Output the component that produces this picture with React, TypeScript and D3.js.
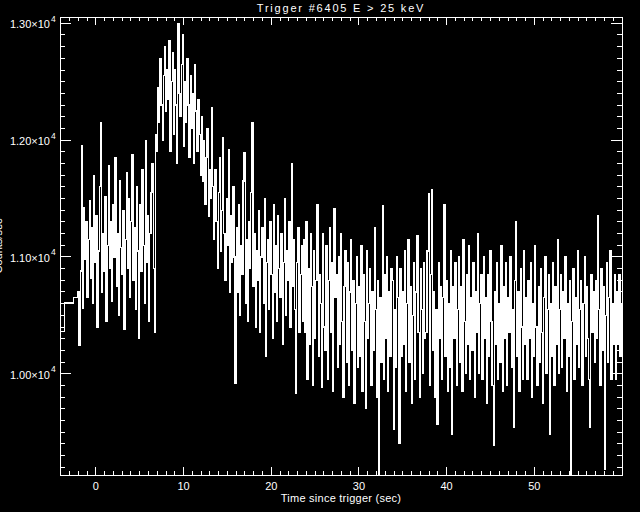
import React, { useEffect, useRef } from "react";
import * as d3 from "d3";

const TITLE = "Trigger #6405 E > 25 keV";
const X_TITLE = "Time since trigger (sec)";
const Y_TITLE = "Counts/sec";

// pre-trigger bins: start time (s) and rate (counts/s)
const preStarts = [-4.096, -3.584, -2.56];
const preRates = [10360, 10605, 10655];

// 0.128 s bins from -2.048 s
const fineStart = -2.048;
const fineWidth = 0.128;
const fineRates = [
  10700, 10240, 10880, 11950, 10560, 11420, 10980, 11300, 10650, 11150,
  11480, 10820, 11250, 10600, 11700, 10950, 11350, 10400, 11050, 11600,
  12150, 10700, 11200, 10880, 11520, 10450, 11100, 11780, 10900, 11300,
  10620, 11450, 11000, 11850, 10750, 11200, 10500, 11650, 11080, 10850,
  11400, 10380, 11150, 11720, 10900, 11500, 10650, 11300, 11880, 10800,
  11250, 10550, 11600, 11050, 10300, 11450, 10880, 11750, 11100, 10600,
  12000, 10950, 11350, 10450, 11200, 11550, 11800, 10900, 10350, 12050,
  11900, 12450, 12150, 12700, 12300, 12000, 12550, 12800, 12250, 12600,
  12350, 12850, 11900, 12500, 12750, 12050, 12600, 12300, 11800, 13000,
  12400, 12200, 12650, 12900, 11950, 12500, 12150, 12700, 12300, 11850,
  12550, 12100, 12400, 11800, 12650, 12250, 11900, 12350, 12050, 11700,
  12200, 11650, 12000, 11450, 11850, 12100, 11350, 11750, 11500, 12280,
  11600, 11150, 11750, 11300, 10900, 11550, 11850, 11050, 11400, 12020,
  11200, 10800, 11500, 11100, 11920, 10700, 11350, 10950, 11600, 11000,
  9920, 11250, 10700, 11450, 10500, 11100, 10850, 11650, 11890, 10600,
  11150, 10450, 11300, 10900, 11550, 12150, 10750, 11200, 10400, 11050,
  10800, 11400, 10350, 11000, 11250, 10600, 11500, 10150, 10950, 11150,
  10550, 11300, 10850, 10300, 11450, 10700, 11100, 10450, 11350, 10900,
  10650, 11200, 10250, 10950, 11500, 10500, 11050, 10800, 11300, 10400,
  11800, 10750, 11150, 10550, 9830, 10950, 11250, 10350, 10850, 11100,
  10450, 11150, 10350, 11300, 9950, 10900, 10250, 11200, 10750, 9900,
  11050, 10300, 10800, 11450, 10150, 10850, 10600, 9880, 11200, 10400,
  10200, 11100, 9950, 10800, 11250, 10350, 10950, 9850, 11410, 10650,
  10850, 10050, 11000, 10250, 11200, 10450, 9800, 10750, 11050, 10100,
  10950, 9900, 10700, 11150, 10200, 10800, 9750, 10600, 11000, 10050,
  10750, 10150, 11100, 9850, 10850, 10450, 9700, 11050, 10300, 10600,
  10900, 9900, 10700, 10200, 11250, 10550, 9800, 10800, 9050, 10650,
  10100, 11440, 9950, 10850, 10300, 11000, 9850, 10700, 10150, 10900,
  10800, 9520, 10550, 10050, 11000, 10650, 9400, 10900, 10150, 10700,
  10250, 11050, 9850, 10600, 11150, 10100, 10750, 9750, 10500, 10950,
  9950, 10700, 11180, 10350, 9800, 10900, 10550, 10000, 10950, 10300,
  10350, 11050, 11540, 9900, 10850, 11580, 10200, 10700, 9800, 10550,
  9570, 10950, 10300, 10750, 9950, 10650, 11450, 10150, 10800, 9850,
  10600, 10050, 11050, 9480, 10750, 10300, 10950, 9900, 10550, 11000,
  10100, 10750, 9850, 11150, 10450, 10000, 10850, 10250, 11100, 9950,
  10650, 10200, 10950, 9800, 10700, 10350, 11200, 10000, 10600, 10850,
  9950, 11000, 10300, 10650, 9750, 10850, 10150, 11050, 10450, 9900,
  9390, 10700, 10250, 10950, 9950, 10600, 10100, 11100, 9850, 10750,
  10300, 10950, 9900, 10650, 10350, 11000, 10050, 10550, 9540, 10800,
  11300, 10150, 10700, 9850, 10900, 10400, 9950, 11050, 10250, 10650,
  9950, 10800, 10300, 10950, 9800, 10600, 10150, 11100, 10400, 9900,
  10750, 10100, 10900, 10350, 9750, 10650, 11000, 10000, 10550, 10850,
  9480, 10600, 10150, 10950, 9900, 10750, 10250, 11150, 10000, 10550,
  10850, 10050, 10700, 10300, 11000, 9850, 10600, 10150, 10800, 9050,
  10450, 10900, 9950, 10650, 10250, 11050, 10050, 10550, 10800, 9900,
  10600, 11000, 10150, 10750, 10300, 9950, 9540, 10850, 10350, 10700,
  10100, 10800, 10300, 11350, 10550, 9900, 10900, 10200, 10750, 9180,
  10500, 10950, 10100, 10650, 11050, 9950, 10600, 10250, 10850, 9950,
  10700, 10250, 10850, 10150, 10600,
];

const xMajor = [0, 10, 20, 30, 40, 50];
const xMajorLabels = ["0", "10", "20", "30", "40", "50"];
const yMajor = [10000, 11000, 12000, 13000];
const yMajorLabels = ["1.00\u00d710", "1.10\u00d710", "1.20\u00d710", "1.30\u00d710"];
const yExponent = "4";

const App = () => {
  const svgRef = useRef(null);

  useEffect(() => {
    document.body.style.margin = "0";
    document.body.style.background = "#000";

    const width = 640;
    const height = 512;
    const left = 60, right = 622, top = 17, bottom = 475;
    const font = "'Liberation Sans', Arial, sans-serif";

    const x = d3.scaleLinear().domain([-4.096, 60]).range([left, right]);
    const y = d3.scaleLinear().domain([9133, 13054]).range([bottom, top]);

    const pts: [number, number][] = [];
    preStarts.forEach((t, i) => pts.push([t, preRates[i]]));
    fineRates.forEach((v, i) => pts.push([fineStart + i * fineWidth, v]));
    pts.push([fineStart + fineRates.length * fineWidth, fineRates[fineRates.length - 1]]);

    const svg = d3.select(svgRef.current)
      .attr("width", width)
      .attr("height", height)
      .attr("viewBox", [0, 0, width, height])
      .style("display", "block")
      .style("background", "#000");
    svg.selectAll("*").remove();

    svg.append("rect").attr("width", width).attr("height", height).attr("fill", "#000");

    svg.append("clipPath").attr("id", "plot-clip")
      .append("rect").attr("x", left).attr("y", top)
      .attr("width", right - left).attr("height", bottom - top);

    const line = d3.line<[number, number]>()
      .x(d => x(d[0]))
      .y(d => y(d[1]))
      .curve(d3.curveStepAfter);

    // IDL-style raster look: no antialiasing
    svg.append("path")
      .attr("d", line(pts))
      .attr("fill", "none")
      .attr("stroke", "#fff")
      .attr("stroke-width", 1.2)
      .attr("shape-rendering", "crispEdges")
      .attr("clip-path", "url(#plot-clip)");

    const g = svg.append("g")
      .attr("stroke", "#fff")
      .attr("stroke-width", 1)
      .attr("shape-rendering", "crispEdges");

    g.append("rect")
      .attr("x", left).attr("y", top)
      .attr("width", right - left).attr("height", bottom - top)
      .attr("fill", "none");

    // x ticks, bottom and top, pointing in
    const xMinor = d3.range(-4, 60, 1).filter(t => !xMajor.includes(t));
    xMinor.forEach(t => {
      g.append("line").attr("x1", x(t)).attr("x2", x(t)).attr("y1", bottom).attr("y2", bottom - 4);
      g.append("line").attr("x1", x(t)).attr("x2", x(t)).attr("y1", top).attr("y2", top + 4);
    });
    xMajor.forEach(t => {
      g.append("line").attr("x1", x(t)).attr("x2", x(t)).attr("y1", bottom).attr("y2", bottom - 8);
      g.append("line").attr("x1", x(t)).attr("x2", x(t)).attr("y1", top).attr("y2", top + 8);
    });

    // y ticks, left and right
    const yMinor = d3.range(9200, 13100, 100).filter(v => !yMajor.includes(v));
    yMinor.forEach(v => {
      g.append("line").attr("x1", left).attr("x2", left + 5).attr("y1", y(v)).attr("y2", y(v));
      g.append("line").attr("x1", right).attr("x2", right - 5).attr("y1", y(v)).attr("y2", y(v));
    });
    yMajor.forEach(v => {
      g.append("line").attr("x1", left).attr("x2", left + 11).attr("y1", y(v)).attr("y2", y(v));
      g.append("line").attr("x1", right).attr("x2", right - 11).attr("y1", y(v)).attr("y2", y(v));
    });

    const txt = svg.append("g")
      .attr("fill", "#fff")
      .attr("font-family", font)
      .attr("font-size", 11);

    xMajor.forEach((t, i) => {
      txt.append("text")
        .attr("x", x(t)).attr("y", 490)
        .attr("text-anchor", "middle")
        .text(xMajorLabels[i]);
    });

    yMajor.forEach((v, i) => {
      txt.append("text")
        .attr("x", 50).attr("y", y(v) + 5)
        .attr("text-anchor", "end")
        .text(yMajorLabels[i]);
      txt.append("text")
        .attr("x", 51).attr("y", y(v) - 1.5)
        .attr("font-size", 8.5)
        .text(yExponent);
    });

    txt.append("text")
      .attr("x", (left + right) / 2).attr("y", 12)
      .attr("text-anchor", "middle")
      .attr("letter-spacing", 1.8)
      .text(TITLE);

    txt.append("text")
      .attr("x", (left + right) / 2).attr("y", 502)
      .attr("text-anchor", "middle")
      .attr("letter-spacing", 0.25)
      .text(X_TITLE);

    // the reference shows this title mostly clipped at the left edge
    txt.append("text")
      .attr("transform", `translate(2, ${(top + bottom) / 2}) rotate(-90)`)
      .attr("text-anchor", "middle")
      .text(Y_TITLE);
  }, []);

  return <svg ref={svgRef}></svg>;
};

export default App;
